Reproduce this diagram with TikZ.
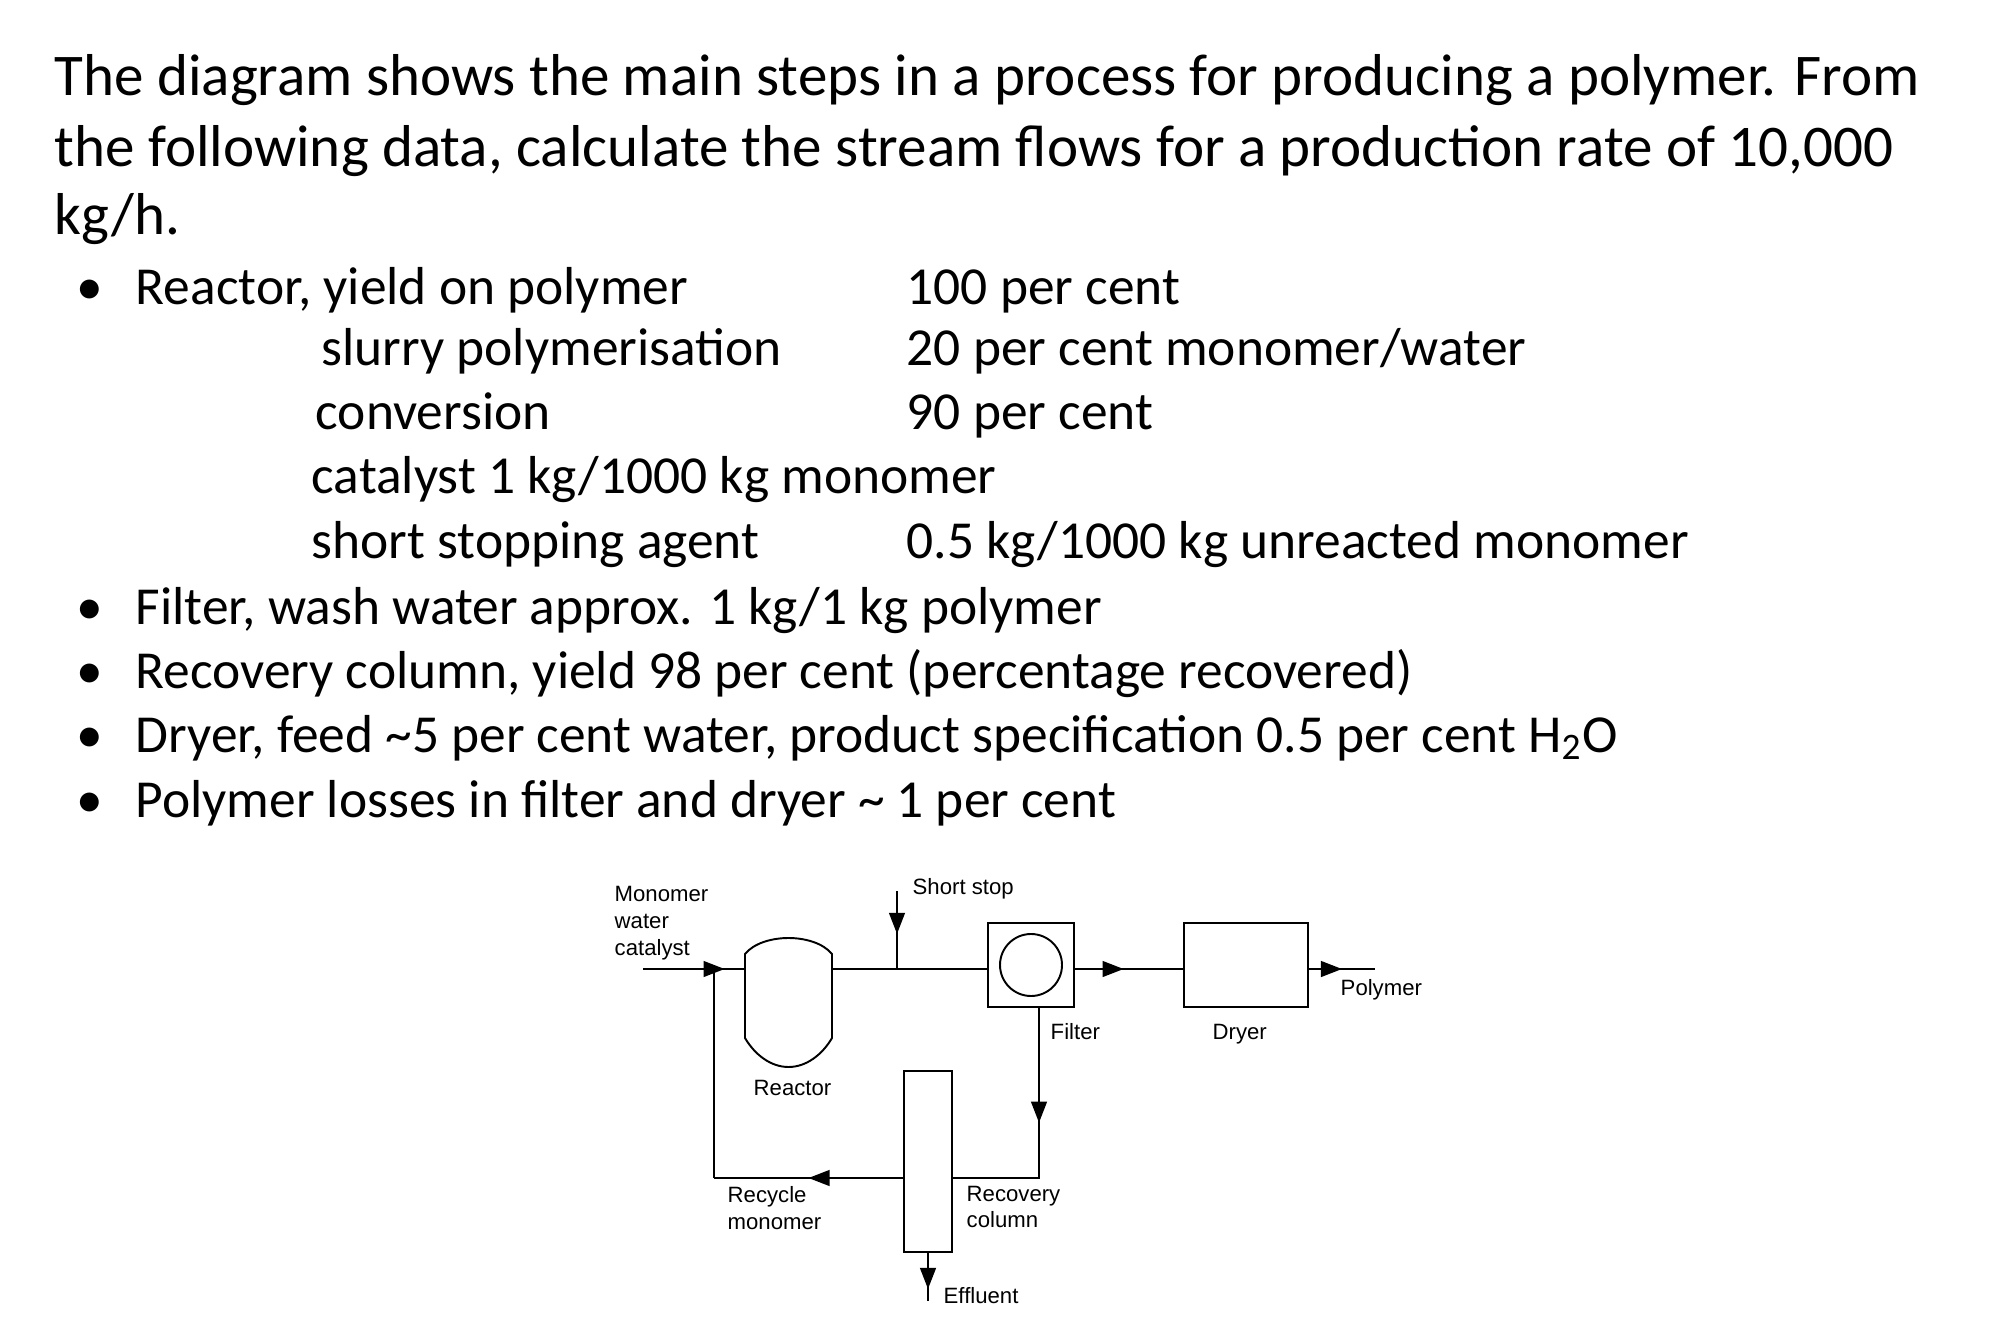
\documentclass[tikz,border=0pt]{standalone}
\usepackage{fontspec}
\setmainfont{Carlito}
\newfontfamily\diag{Liberation Sans}
\usetikzlibrary{arrows.meta,decorations.markings}
\begin{document}
\begin{tikzpicture}[x=0.01cm,y=-0.01cm,
  tt/.style={anchor=base west,inner sep=0,font=\fontsize{16.8}{20}\selectfont},
  tx/.style={anchor=base west,inner sep=0,font=\fontsize{15.2}{18}\selectfont},
  lb/.style={anchor=west,inner sep=0,font=\diag\fontsize{6.3}{7.6}\selectfont,align=left},
  ln/.style={line width=0.55pt},
  mid/.style={postaction={decorate},decoration={markings,mark=at position #1 with {\arrow{Triangle[length=6pt,width=4.5pt]}}}}]
\useasboundingbox (0,0) rectangle (2004,1334);
% text
\node[tt] (t1) at (54,96) {The diagram shows the main steps in a process for producing a polymer. From};
\node[tt] (t2) at (54,167) {the following data, calculate the stream flows for a production rate of 10,000};
\node[tt] (t3) at (54,235) {kg/h.};
\foreach \y/\n in {305/b1,624/b2,688/b3,752/b4,817/b5}{\node[tx] (\n) at (76,\y) {•};}
\node[tx] (a1) at (135,305) {Reactor, yield on polymer};
\node[tx] (a2) at (906,305) {100 per cent};
\node[tx] (a3) at (321,366) {slurry polymerisation};
\node[tx] (a4) at (906,366) {20 per cent monomer/water};
\node[tx] (a5) at (315,430) {conversion};
\node[tx] (a6) at (906,430) {90 per cent};
\node[tx] (a7) at (311,494) {catalyst 1 kg/1000 kg monomer};
\node[tx] (a8) at (311,558) {short stopping agent};
\node[tx] (a9) at (906,558) {0.5 kg/1000 kg unreacted monomer};
\node[tx] (c1) at (135,624) {Filter, wash water approx. 1 kg/1 kg polymer};
\node[tx] (c2) at (135,688) {Recovery column, yield 98 per cent (percentage recovered)};
\node[tx] (c3) at (135,752) {Dryer, feed \textasciitilde5 per cent water, product specification 0.5 per cent H\textsubscript{2}O};
\node[tx] (c4) at (135,817) {Polymer losses in filter and dryer \textasciitilde\ 1 per cent};
% diagram
\begin{scope}[xshift=-0.06cm,yshift=0.05cm]
\coordinate (in) at (649,974);
\coordinate (j) at (720,974);
\coordinate (ss) at (903,896);
\coordinate (ssj) at (903,974);
\coordinate (out) at (1381,974);
\coordinate (fd) at (1045,1183);
\coordinate (rb) at (720,1183);
\coordinate (ef) at (934,1306);
\draw[ln] (751,959) .. controls (760,948) and (778,943) .. (794.5,943) .. controls (811,943) and (829,948) .. (838,959) -- (838,1043) .. controls (828,1060) and (812,1072) .. (794.5,1072) .. controls (777,1072) and (761,1060) .. (751,1043) -- cycle;
\node[draw,ln,minimum width=86*0.01cm,minimum height=84*0.01cm,inner sep=0] (filt) at (1037,970) {};
\draw[ln] (1037,970) ellipse [x radius=31*0.01cm, y radius=31*0.01cm];
\node[draw,ln,minimum width=124*0.01cm,minimum height=84*0.01cm,inner sep=0] (dry) at (1252,970) {};
\node[draw,ln,minimum width=48*0.01cm,minimum height=181*0.01cm,inner sep=0] (col) at (934,1166.5) {};
\draw[ln,mid=0.8] (in) -- (751,974);
\draw[ln] (838,974) -- (filt.west |- in);
\draw[ln,mid=0.55] (ss) -- (ssj);
\draw[ln,mid=0.45] (filt.east |- in) -- (dry.west |- in);
\draw[ln,mid=0.5] (dry.east |- in) -- (out);
\draw[ln,mid=0.45] (1045,1012) -- (fd) -- (col.east |- fd);
\draw[ln,mid=0.5] (col.west |- rb) -- (rb);
\draw[ln] (rb) -- (j);
\draw[ln,mid=0.75] (col.south) -- (ef);
\node[lb] (l1) at (620,928) {Monomer\\water\\catalyst};
\node[lb] (l2) at (918,894) {Short stop};
\node[lb] (l3) at (1056,1037) {Filter};
\node[lb] (l4) at (1218,1039) {Dryer};
\node[lb] (l5) at (759,1093) {Reactor};
\node[lb] (l6) at (1346,995) {Polymer};
\node[lb] (l7) at (733,1213) {Recycle\\monomer};
\node[lb] (l8) at (972,1212) {Recovery\\column};
\node[lb] (l9) at (949,1301) {Effluent};
\end{scope}
\end{tikzpicture}
\end{document}
